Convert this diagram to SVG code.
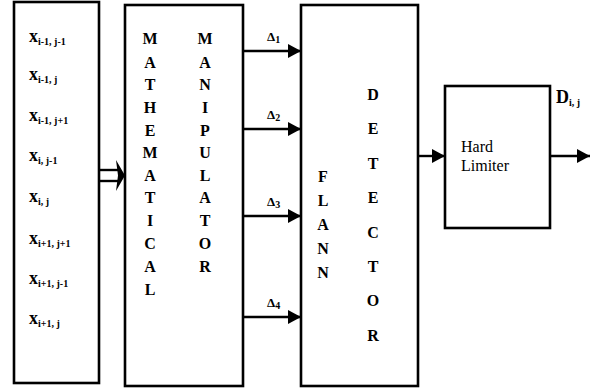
<svg xmlns="http://www.w3.org/2000/svg" width="591" height="389" viewBox="0 0 591 389">
  <style>
    .box { fill: #fff; stroke: #000; stroke-width: 2.6; }
    .wire { stroke: #000; stroke-width: 2.4; fill: none; }
    text { font-family: "Liberation Serif", "DejaVu Serif", "Times New Roman", serif; fill: #000; }
    .lbl { font-weight: bold; font-size: 13px; }
    .var { font-weight: bold; font-size: 18px; }
    .sub { font-size: 10px; }
    .col { font-weight: bold; font-size: 16px; text-anchor: middle; }
    .plain { font-size: 16px; }
  </style>
  <defs>
    <marker id="head" markerWidth="14" markerHeight="14" refX="13" refY="7" orient="auto" markerUnits="userSpaceOnUse">
      <path d="M0,0 L13,7 L0,14 Z" fill="#000"/>
    </marker>
  </defs>

  <rect width="591" height="389" fill="#fff"/>

  <!-- pixel-neighbourhood inputs -->
  <g id="inputs">
    <rect class="box" x="14" y="2" width="85" height="381"/>
    <text class="var" x="29" y="42">x<tspan class="sub" dy="3">i-1, j-1</tspan></text>
    <text class="var" x="29" y="80">x<tspan class="sub" dy="3">i-1, j</tspan></text>
    <text class="var" x="29" y="121">x<tspan class="sub" dy="3">i-1, j+1</tspan></text>
    <text class="var" x="29" y="161">x<tspan class="sub" dy="3">i, j-1</tspan></text>
    <text class="var" x="29" y="202">x<tspan class="sub" dy="3">i, j</tspan></text>
    <text class="var" x="29" y="244">x<tspan class="sub" dy="3">i+1, j+1</tspan></text>
    <text class="var" x="29" y="284">x<tspan class="sub" dy="3">i+1, j-1</tspan></text>
    <text class="var" x="29" y="324">x<tspan class="sub" dy="3">i+1, j</tspan></text>
  </g>

  <!-- mathematical manipulator -->
  <g id="manipulator">
    <rect class="box" x="125" y="5" width="118" height="381"/>
    <text class="col" x="150" y="44">M</text>
    <text class="col" x="150" y="68">A</text>
    <text class="col" x="150" y="90">T</text>
    <text class="col" x="150" y="113">H</text>
    <text class="col" x="150" y="136">E</text>
    <text class="col" x="150" y="158">M</text>
    <text class="col" x="150" y="181">A</text>
    <text class="col" x="150" y="203">T</text>
    <text class="col" x="150" y="226">I</text>
    <text class="col" x="150" y="249">C</text>
    <text class="col" x="150" y="272">A</text>
    <text class="col" x="150" y="295">L</text>
    <text class="col" x="205" y="44">M</text>
    <text class="col" x="205" y="68">A</text>
    <text class="col" x="205" y="90">N</text>
    <text class="col" x="205" y="113">I</text>
    <text class="col" x="205" y="136">P</text>
    <text class="col" x="205" y="158">U</text>
    <text class="col" x="205" y="181">L</text>
    <text class="col" x="205" y="203">A</text>
    <text class="col" x="205" y="226">T</text>
    <text class="col" x="205" y="249">O</text>
    <text class="col" x="205" y="272">R</text>
  </g>

  <!-- FLANN detector -->
  <g id="flann">
    <rect class="box" x="301" y="5" width="117" height="381"/>
    <text class="col" x="323" y="182">F</text>
    <text class="col" x="323" y="206">L</text>
    <text class="col" x="323" y="230">A</text>
    <text class="col" x="323" y="254">N</text>
    <text class="col" x="323" y="278">N</text>
    <text class="col" x="373" y="100">D</text>
    <text class="col" x="373" y="134">E</text>
    <text class="col" x="373" y="169">T</text>
    <text class="col" x="373" y="203">E</text>
    <text class="col" x="373" y="238">C</text>
    <text class="col" x="373" y="272">T</text>
    <text class="col" x="373" y="306">O</text>
    <text class="col" x="373" y="341">R</text>
  </g>

  <!-- hard limiter -->
  <g id="limiter">
    <rect class="box" x="445" y="86" width="105" height="142"/>
    <text class="plain" x="461" y="152">Hard</text>
    <text class="plain" x="461" y="171">Limiter</text>
  </g>

  <!-- connectors -->
  <g id="connectors">
    <!-- double-line bus into the manipulator -->
    <line class="wire" x1="99" y1="170" x2="119" y2="170" stroke-width="2"/>
    <line class="wire" x1="99" y1="181" x2="119" y2="181" stroke-width="2"/>
    <path d="M116,160 L125,175.5 L116,191 L118,175.5 Z" fill="#000"/>

    <line class="wire" x1="243" y1="51" x2="301" y2="51" marker-end="url(#head)"/>
    <line class="wire" x1="243" y1="129" x2="301" y2="129" marker-end="url(#head)"/>
    <line class="wire" x1="243" y1="216" x2="301" y2="216" marker-end="url(#head)"/>
    <line class="wire" x1="243" y1="317" x2="301" y2="317" marker-end="url(#head)"/>

    <line class="wire" x1="418" y1="156" x2="445" y2="156" marker-end="url(#head)"/>
    <line class="wire" x1="550" y1="156" x2="590" y2="156" marker-end="url(#head)"/>

    <text class="lbl" x="267" y="41">Δ<tspan class="sub" dy="2">1</tspan></text>
    <text class="lbl" x="267" y="119">Δ<tspan class="sub" dy="2">2</tspan></text>
    <text class="lbl" x="267" y="206">Δ<tspan class="sub" dy="2">3</tspan></text>
    <text class="lbl" x="267" y="307">Δ<tspan class="sub" dy="2">4</tspan></text>

    <text x="556" y="103" font-weight="bold" font-size="18">D<tspan class="sub" dy="3">i, j</tspan></text>
  </g>
</svg>
